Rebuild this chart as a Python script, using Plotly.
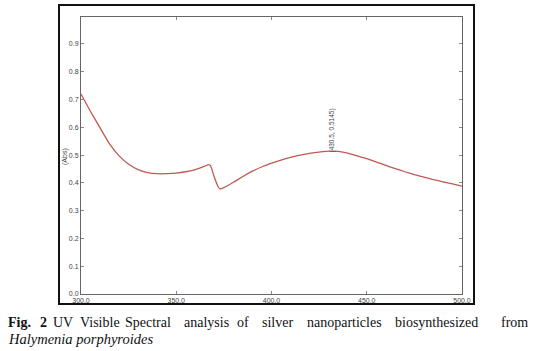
import plotly.graph_objects as go

wavelength = [300, 305, 310, 315, 320, 325, 330, 335, 340, 345, 350, 355, 360, 363, 365, 367, 368,
              370, 372, 373, 375, 380, 385, 390, 395, 400, 405, 410, 415, 420, 425, 430.5, 435,
              440, 445, 450, 455, 460, 465, 470, 475, 480, 485, 490, 495, 500]
absorbance = [0.720, 0.657, 0.598, 0.540, 0.497, 0.467, 0.448, 0.437, 0.433, 0.433, 0.435, 0.440,
              0.448, 0.455, 0.460, 0.466, 0.462, 0.420, 0.386, 0.378, 0.383, 0.402, 0.423, 0.442,
              0.458, 0.471, 0.482, 0.492, 0.500, 0.506, 0.511, 0.5145, 0.513, 0.507, 0.497, 0.487,
              0.475, 0.463, 0.451, 0.440, 0.430, 0.421, 0.412, 0.404, 0.396, 0.388]

x_ticks = [300, 350, 400, 450, 500]
x_tick_labels = ["300.0", "350.0", "400.0", "450.0", "500.0"]
y_ticks = [0.0, 0.1, 0.2, 0.3, 0.4, 0.5, 0.6, 0.7, 0.8, 0.9]
y_tick_labels = ["0.0", "0.1", "0.2", "0.3", "0.4", "0.5", "0.6", "0.7", "0.8", "0.9"]

peak_x = 430.5
peak_y = 0.5145
peak_label = "(430.5, 0.5145)"

W, H = 533, 351
L, R, T, B = 81, 71, 17, 57
pw, ph = W - L - R, H - T - B

def px_to_paper_x(px):
    return (px - L) / pw

def px_to_paper_y(py):
    return (H - B - py) / ph

fig = go.Figure()
fig.add_trace(go.Scatter(x=wavelength, y=absorbance, mode="lines",
                         line=dict(color="#bf5a53", width=1.3, shape="spline", smoothing=0.4),
                         hoverinfo="skip", showlegend=False))

axis_common = dict(showline=True, linecolor="#666666", linewidth=1, mirror="ticks",
                   ticks="inside", ticklen=3, tickcolor="#888888", showgrid=False, zeroline=False,
                   tickfont=dict(family="Liberation Sans", size=7, color="#444444"))

fig.update_xaxes(range=[300, 500], tickvals=x_ticks, ticktext=x_tick_labels, **axis_common)
fig.update_yaxes(range=[0, 0.997], tickvals=y_ticks, ticktext=y_tick_labels, **axis_common)

annotations = [
    dict(x=peak_x + 1.2, y=0.588, xref="x", yref="y", text=peak_label, showarrow=False,
         textangle=-90, font=dict(family="Liberation Sans", size=6.5, color="#444444"),
         xanchor="center", yanchor="middle"),
    dict(x=px_to_paper_x(65), y=px_to_paper_y(157), xref="paper", yref="paper", text="(Abs)",
         showarrow=False, textangle=-90, font=dict(family="Liberation Sans", size=7, color="#444444"),
         xanchor="center", yanchor="middle"),
]

caption_words = [("<b>Fig.</b>", 20), ("<b>2</b>", 43), ("UV", 63), ("Visible", 100), ("Spectral", 148),
                 ("analysis", 206), ("of", 243), ("silver", 277), ("nanoparticles", 344),
                 ("biosynthesized", 436), ("from", 514)]
for word, xp in caption_words:
    annotations.append(dict(x=px_to_paper_x(xp), y=px_to_paper_y(322), xref="paper", yref="paper",
                            text=word, showarrow=False, xanchor="center", yanchor="middle",
                            font=dict(family="Liberation Serif", size=14, color="#111111")))
annotations.append(dict(x=px_to_paper_x(6), y=px_to_paper_y(339), xref="paper", yref="paper",
                        text="<i>Halymenia porphyroides</i>", showarrow=False, xanchor="left",
                        yanchor="middle", font=dict(family="Liberation Serif", size=14.5, color="#111111")))

shapes = [dict(type="rect", xref="paper", yref="paper",
               x0=px_to_paper_x(59), x1=px_to_paper_x(474),
               y0=px_to_paper_y(304), y1=px_to_paper_y(5),
               line=dict(color="#111111", width=2), fillcolor="rgba(0,0,0,0)", layer="above")]

fig.update_layout(width=W, height=H, margin=dict(l=L, r=R, t=T, b=B),
                  paper_bgcolor="white", plot_bgcolor="white",
                  annotations=annotations, shapes=shapes)

fig.write_html("out.html")
